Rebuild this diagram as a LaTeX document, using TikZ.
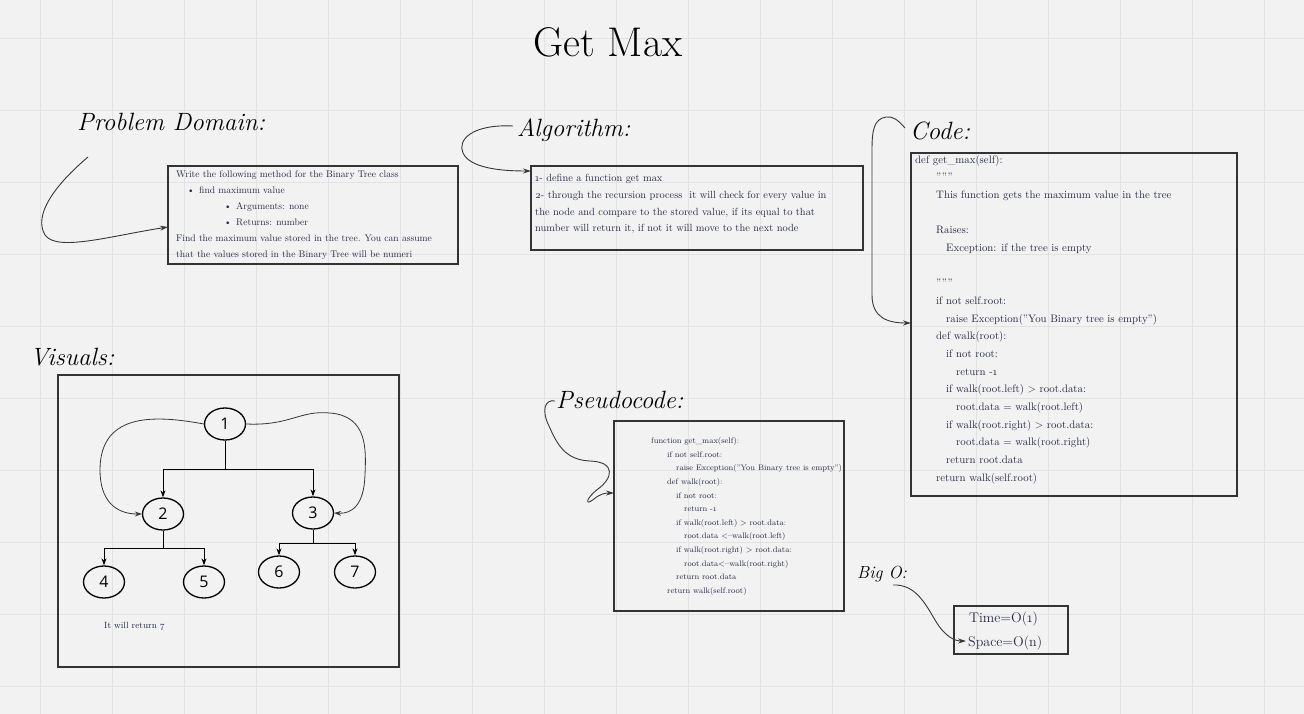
\documentclass[tikz,border=0pt]{standalone}
\usepackage{fontspec}
\setmainfont{Latin Modern Roman}[Numbers=OldStyle]
\newfontfamily\treefont{Open Sans}
\usetikzlibrary{shapes.geometric,arrows.meta}
\definecolor{paper}{RGB}{242,242,242}
\definecolor{gridline}{RGB}{226,226,226}
\definecolor{ink}{RGB}{38,42,74}
\definecolor{frame}{RGB}{51,51,51}
\definecolor{wire}{RGB}{55,55,55}
\newcommand{\codeA}{\hspace*{21pt}}
\newcommand{\codeB}{\hspace*{31pt}}
\newcommand{\codeC}{\hspace*{41pt}}
\newcommand{\pseuA}{\hspace*{16pt}}
\newcommand{\pseuB}{\hspace*{25pt}}
\newcommand{\pseuC}{\hspace*{33pt}}

\begin{document}
\begin{tikzpicture}[x=1pt,y=-1pt,
    box/.style={draw=frame,line width=1.6pt,rectangle,outer sep=0pt,inner sep=0pt,anchor=north west},
    txt/.style={text=ink,align=left,anchor=north west,inner sep=0pt},
    hand/.style={font=\fontsize{25}{30}\selectfont\itshape,anchor=base west,inner sep=0pt},
    link/.style={draw=wire,line width=0.9pt,-{Stealth[length=8pt,width=5pt]}},
    leaf/.style={ellipse,draw,line width=1.3pt,minimum width=41pt,minimum height=32pt,inner sep=0pt,font=\treefont\fontsize{16}{16}\selectfont},
    branch/.style={line width=0.95pt,-{Stealth[length=7pt,width=5pt]}},
    loopy/.style={draw=wire,line width=0.8pt,-{Stealth[length=7pt,width=5pt]}}]

    % paper and grid
    \useasboundingbox (0,0) rectangle (1304,714);
    \fill[paper] (0,0) rectangle (1304,714);
    \foreach \gx in {40,112,...,1300} {
        \draw[gridline,line width=0.8pt] (\gx,0) -- (\gx,714);
    }
    \foreach \gy in {38,110,...,710} {
        \draw[gridline,line width=0.8pt] (0,\gy) -- (1304,\gy);
    }

    % title
    \node[font=\fontsize{41.5}{44}\selectfont,anchor=base,inner sep=0pt] (title) at (608,57) {Get Max};

    % problem domain
    \node[hand] (pdhead) at (77,131) {Problem Domain:};
    \node[box,minimum width=290pt,minimum height=98pt] (pdbox) at (168,166) {};
    \node[txt,font=\fontsize{9.6}{16}\selectfont] (pdtext) at (176,170.5) {Write the following method for the Binary Tree class\\
        \hspace*{11pt}\makebox[12pt][l]{\textbullet}find maximum value\\
        \hspace*{48pt}\makebox[12pt][l]{\textbullet}Arguments: none\\
        \hspace*{48pt}\makebox[12pt][l]{\textbullet}Returns: number\\
        Find the maximum value stored in the tree. You can assume\\
        that the values stored in the Binary Tree will be numeri};
    \coordinate (pdstart) at (88,157);
    \draw[link] (pdstart) .. controls (55,185) and (33,215) .. (45,235) .. controls (57,252) and (110,236) .. (pdbox.west |- 0,227);

    % algorithm
    \node[hand] (alghead) at (517,137) {Algorithm:};
    \node[box,minimum width=332pt,minimum height=84pt] (algbox) at (531,166) {};
    \node[txt,font=\fontsize{10.4}{16.8}\selectfont] (algtext) at (535,174) {1- define a function get max\\
        2- through the recursion process\ \ it will check for every value in\\
        the node and compare to the stored value, if its equal to that\\
        number will return it, if not it will move to the next node};
    \coordinate (algstart) at (513,126);
    \draw[link] (algstart) .. controls (472,124) and (457,140) .. (463,153) .. controls (470,168) and (500,171) .. (algbox.west |- 0,171);

    % code
    \node[hand] (codehead) at (910,140) {Code:};
    \node[box,minimum width=326pt,minimum height=343pt] (codebox) at (911,153) {};
    \node[txt,font=\fontsize{10.8}{17.65}\selectfont] (codetext) at (915,155) {def get\_max(self):\\
        \codeA"""\\
        \codeA This function gets the maximum value in the tree\\
        \mbox{}\\
        \codeA Raises:\\
        \codeB Exception: if the tree is empty\\
        \mbox{}\\
        \codeA"""\\
        \codeA if not self.root:\\
        \codeB raise Exception("You Binary tree is empty")\\
        \codeA def walk(root):\\
        \codeB if not root:\\
        \codeC return -1\\
        \codeB if walk(root.left) > root.data:\\
        \codeC root.data = walk(root.left)\\
        \codeB if walk(root.right) > root.data:\\
        \codeC root.data = walk(root.right)\\
        \codeB return root.data\\
        \codeA return walk(self.root)};
    \coordinate (codestart) at (905,128);
    \draw[link] (codestart) .. controls (898,120) and (893,116) .. (886,117) .. controls (874,119) and (872,130) .. (872,150) -- (872,295) .. controls (872,318) and (888,323) .. (codebox.west |- 0,323);

    % visuals
    \node[hand] (vishead) at (30,365) {Visuals:};
    \node[box,minimum width=341pt,minimum height=292pt] (visbox) at (58,375) {};
    \node[leaf] (n1) at (225,424) {1};
    \node[leaf] (n2) at (163,514) {2};
    \node[leaf] (n3) at (313,513) {3};
    \node[leaf] (n4) at (104,582) {4};
    \node[leaf] (n5) at (204,582) {5};
    \node[leaf] (n6) at (279,572) {6};
    \node[leaf] (n7) at (355,572) {7};
    \coordinate (j1) at (225,469);
    \coordinate (j2) at (163,548);
    \coordinate (j3) at (313,543);
    \draw[branch] (n1) -- (j1) -| (n2);
    \draw[branch] (j1) -| (n3);
    \draw[branch] (n2) -- (j2) -| (n4);
    \draw[branch] (j2) -| (n5);
    \draw[branch] (n3) -- (j3) -| (n6);
    \draw[branch] (j3) -| (n7);
    \draw[loopy] (n1.west) .. controls (160,416) and (100,410) .. (100,470) .. controls (100,500) and (115,514) .. (n2.west);
    \draw[loopy] (n1.east) .. controls (290,426) and (300,410) .. (330,413) .. controls (368,416) and (366,450) .. (365,475) .. controls (364,505) and (352,514) .. (n3.east);
    \node[txt,font=\fontsize{9}{10}\selectfont,anchor=base west] (result) at (104,628) {It will return 7};

    % pseudocode
    \node[hand] (pshead) at (556,408) {Pseudocode:};
    \node[box,minimum width=230pt,minimum height=190pt] (psbox) at (614,421) {};
    \node[txt,font=\fontsize{8}{13.6}\selectfont] (pstext) at (651,437.5) {function get\_max(self):\\
        \pseuA if not self.root:\\
        \pseuB raise Exception("You Binary tree is empty")\\
        \pseuA def walk(root):\\
        \pseuB if not root:\\
        \pseuC return -1\\
        \pseuB if walk(root.left) > root.data:\\
        \pseuC root.data <--walk(root.left)\\
        \pseuB if walk(root.right) > root.data:\\
        \pseuC root.data<--walk(root.right)\\
        \pseuB return root.data\\
        \pseuA return walk(self.root)};
    \coordinate (psstart) at (555,401);
    \draw[link] (psstart) .. controls (545,399) and (541,410) .. (549,426) .. controls (557,444) and (565,460) .. (590,461) .. controls (616,462) and (613,478) .. (598,489) .. controls (586,498) and (584,507) .. (594,499) .. controls (600,494) and (605,493) .. (psbox.west |- 0,493);

    % big o
    \node[hand,font=\fontsize{17.5}{20}\selectfont\itshape] (bighead) at (857,578) {Big O:};
    \node[box,minimum width=114pt,minimum height=48pt] (bigbox) at (954,606) {};
    \node[txt,font=\fontsize{14}{23.3}\selectfont] (bigtext) at (968,612) {\hspace*{1pt}Time=O(1)\\Space=O(n)};
    \coordinate (bigstart) at (893,585);
    \coordinate (bigend) at (966,641);
    \draw[link] (bigstart) .. controls (915,584) and (925,603) .. (935,620) .. controls (945,637) and (955,641) .. (bigend);
\end{tikzpicture}
\end{document}
